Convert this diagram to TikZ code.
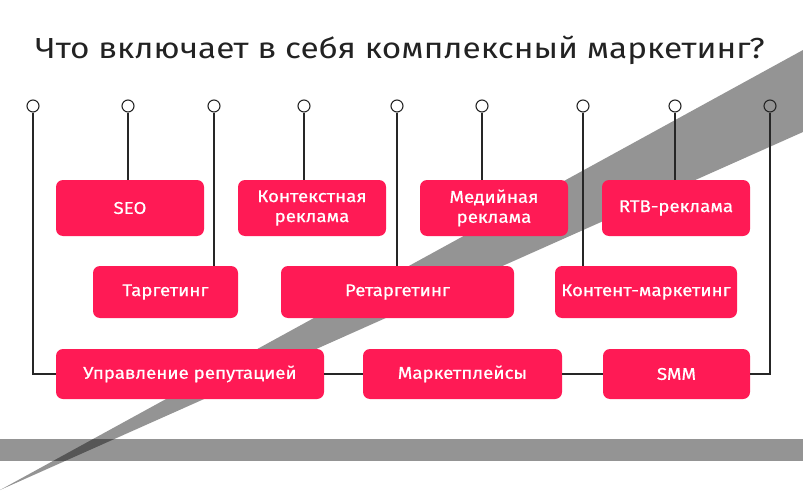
\documentclass[tikz,border=0pt]{standalone}
\usepackage{fontspec}
\setmainfont{Fira Sans}
\newfontfamily\boxfont{Fira Sans}[FakeStretch=1.1, FakeBold=0.6]
\newfontfamily\titlefont{Fira Sans}[FakeStretch=1.15]
\usepackage{tikz}
\usetikzlibrary{positioning}

\definecolor{boxred}{HTML}{FF1A55}
\definecolor{titlegray}{HTML}{222222}
\definecolor{linegray}{HTML}{262626}

\tikzset{
	item/.style={fill=boxred, rounded corners=7pt, text=white, align=center, inner sep=0pt,
		font=\boxfont\fontsize{17}{20}\selectfont},
	dot/.style={circle, draw=linegray, line width=1.1pt, minimum size=12pt, inner sep=0pt},
	wire/.style={draw=linegray, line width=1.1pt},
}

\begin{document}
\begin{tikzpicture}[x=1pt,y=-1pt]
	\useasboundingbox (0,0) rectangle (803,500);
	% grey stripes
	\fill[black,opacity=0.42] (0,490) -- (803,50) -- (803,132) -- cycle;
	\fill[black,opacity=0.42] (0,439) rectangle (803,461);
	\node[anchor=base, text=titlegray, font=\titlefont\fontsize{29}{34}\selectfont] (title) at (400,59) {Что включает в себя комплексный маркетинг?};
	% pins
	\foreach \i/\x in {1/33,2/128,3/214,4/304,5/397,6/482,7/583,8/675,9/770}
		\node[dot] (p\i) at (\x,106) {};
	% boxes
	\node[item, minimum width=148pt, minimum height=56pt] (seo) at (130,208) {SEO};
	\node[item, minimum width=148pt, minimum height=56pt] (context) at (312,208) {Контекстная\\реклама};
	\node[item, minimum width=148pt, minimum height=56pt] (media) at (494,208) {Медийная\\реклама};
	\node[item, minimum width=148pt, minimum height=56pt] (rtb) at (676,208) {RTB-реклама};
	\node[item, minimum width=145pt, minimum height=52pt] (target) at (165.5,292) {Таргетинг};
	\node[item, minimum width=233pt, minimum height=52pt] (retarget) at (397.5,292) {Ретаргетинг};
	\node[item, minimum width=182pt, minimum height=52pt] (content) at (646,292) {Контент-маркетинг};
	\node[item, minimum width=268pt, minimum height=50pt] (reput) at (190,374) {Управление репутацией};
	\node[item, minimum width=199pt, minimum height=50pt] (market) at (462.5,374) {Маркетплейсы};
	\node[item, minimum width=147pt, minimum height=50pt] (smm) at (676.5,374) {SMM};
	% connectors
	\draw[wire] (p2.south) -- (p2.south |- seo.north);
	\draw[wire] (p4.south) -- (p4.south |- context.north);
	\draw[wire] (p6.south) -- (p6.south |- media.north);
	\draw[wire] (p8.south) -- (p8.south |- rtb.north);
	\draw[wire] (p3.south) -- (p3.south |- target.north);
	\draw[wire] (p5.south) -- (p5.south |- retarget.north);
	\draw[wire] (p7.south) -- (p7.south |- content.north);
	\draw[wire] (p1.south) |- (reput.west);
	\draw[wire] (reput.east) -- (market.west);
	\draw[wire] (market.east) -- (smm.west);
	\draw[wire] (smm.east) -| (p9.south);
\end{tikzpicture}
\end{document}
